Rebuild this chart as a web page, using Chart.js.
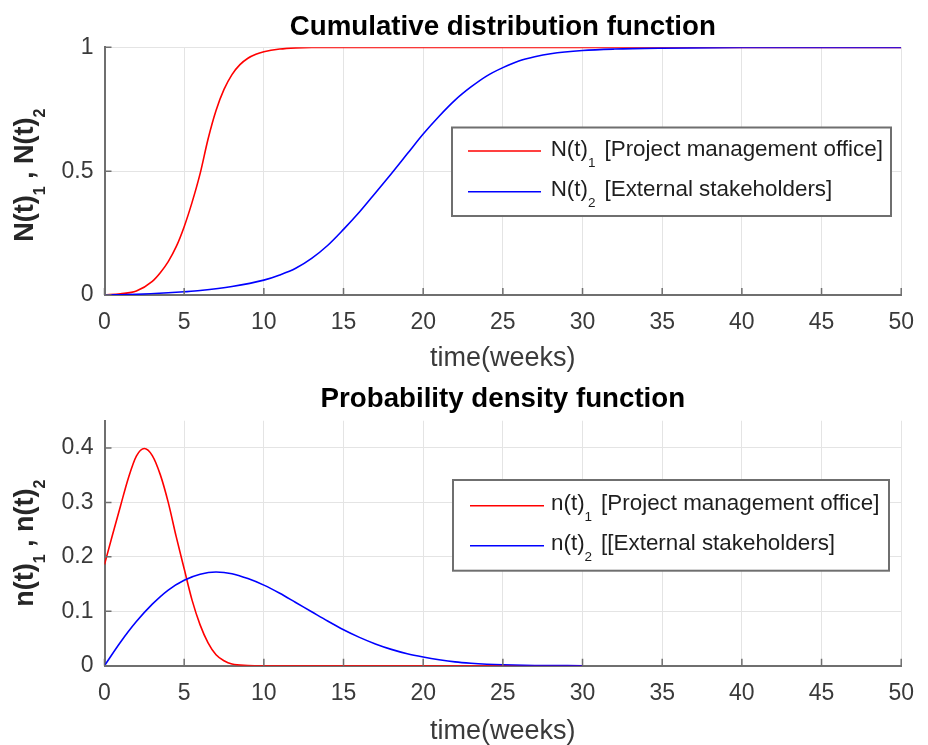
<!DOCTYPE html>
<html>
<head>
<meta charset="utf-8">
<script src="https://cdn.jsdelivr.net/npm/chart.js@4.4.1/dist/chart.umd.min.js"></script>
<style>
html,body{margin:0;padding:0;background:#fff;}
#c1{position:absolute;left:0;top:0;}
#c2{position:absolute;left:0;top:372px;}
</style>
</head>
<body>
<canvas id="c1" width="928" height="372"></canvas>
<canvas id="c2" width="928" height="373"></canvas>
<script>
// ---------- text ----------
const cdfTitle = 'Cumulative distribution function';
const pdfTitle = 'Probability density function';
const xAxisLabel = 'time(weeks)';
const cdfYLabel = [['N(t)', false], ['1', true], [' , N(t)', false], ['2', true]];
const pdfYLabel = [['n(t)', false], ['1', true], [' , n(t)', false], ['2', true]];
const cdfLegend1 = [['N(t)', false], ['1', true], ['[Project management office]', false]];
const cdfLegend2 = [['N(t)', false], ['2', true], ['[External stakeholders]', false]];
const pdfLegend1 = [['n(t)', false], ['1', true], ['[Project management office]', false]];
const pdfLegend2 = [['n(t)', false], ['2', true], ['[[External stakeholders]', false]];

// ---------- ticks ----------
const xTickMin = 0, xTickMax = 50, xTickStep = 5;
const cdfYMin = 0, cdfYMax = 1, cdfYStep = 0.5;
const pdfYMin = 0, pdfYMax = 0.45, pdfYStep = 0.1;

// ---------- series: cumulative distribution ----------
const cdf1Time = [0, 1, 2, 3, 3.5, 4, 4.5, 5, 5.5, 6, 6.5, 7, 7.5, 8, 8.5, 9, 9.5, 10, 11, 12, 13, 15, 20, 30, 40, 50];
const cdf1Vals = [0, 0.005, 0.016, 0.055, 0.09, 0.135, 0.195, 0.276, 0.375, 0.49, 0.63, 0.745, 0.83, 0.89, 0.93, 0.956, 0.972, 0.982, 0.993, 0.998, 1, 1, 1, 1, 1, 1];
const cdf2Time = [0, 2, 4, 5, 6, 8, 10, 11, 12, 13, 14, 15, 16, 17, 18, 19, 20, 21, 22, 23, 24, 25, 26, 27, 28, 30, 32, 35, 40, 45, 50];
const cdf2Vals = [0, 0.003, 0.009, 0.013, 0.018, 0.034, 0.06, 0.081, 0.108, 0.148, 0.2, 0.265, 0.335, 0.412, 0.49, 0.57, 0.65, 0.722, 0.787, 0.84, 0.885, 0.918, 0.945, 0.962, 0.974, 0.987, 0.993, 0.997, 1, 1, 1];

// ---------- series: probability density ----------
const pdf1Time = [0, 0.5, 1, 1.5, 2, 2.5, 3, 3.5, 4, 4.5, 5, 5.5, 6, 6.5, 7, 7.5, 8, 9, 10, 15, 20, 25, 30];
const pdf1Vals = [0.186, 0.24, 0.293, 0.345, 0.385, 0.399, 0.386, 0.351, 0.3, 0.237, 0.178, 0.12, 0.075, 0.042, 0.02, 0.009, 0.003, 0.0005, 0, 0, 0, 0, 0];
const pdf2Time = [0, 1, 2, 3, 4, 5, 6, 7, 8, 9, 10, 11, 12, 13, 14, 15, 16, 17, 18, 19, 20, 21, 22, 23, 24, 25, 27, 30];
const pdf2Vals = [0, 0.043, 0.081, 0.113, 0.139, 0.157, 0.168, 0.172, 0.169, 0.16, 0.148, 0.133, 0.116, 0.099, 0.082, 0.066, 0.052, 0.04, 0.03, 0.022, 0.016, 0.011, 0.007, 0.0045, 0.0028, 0.0017, 0.0005, 0];

// ---------- helpers ----------
const FAMILY = "'Liberation Sans', Arial, Helvetica, sans-serif";
const RED = 'rgb(255,0,0)';
const BLUE = 'rgb(0,0,255)';
const AXIS_COLOR = '#6f6f6f';
const GRID_COLOR = '#e4e4e4';
const TICK_TEXT = '#3a3a3a';

function pts(ts, vs) { return ts.map((t, i) => ({ x: t, y: vs[i] })); }
function plain(parts) { return parts.map(p => p[0]).join(''); }

function drawParts(ctx, parts, x, y, mainFont, subFont, subShift, gapAfterSub) {
  let cx = x;
  parts.forEach(p => {
    ctx.font = p[1] ? subFont : mainFont;
    ctx.fillText(p[0], cx, y + (p[1] ? subShift : 0));
    cx += ctx.measureText(p[0]).width;
    if (p[1] && gapAfterSub) cx += gapAfterSub;
  });
  return cx;
}
function measureParts(ctx, parts, mainFont, subFont, gapAfterSub) {
  let w = 0;
  parts.forEach(p => {
    ctx.font = p[1] ? subFont : mainFont;
    w += ctx.measureText(p[0]).width;
    if (p[1] && gapAfterSub) w += gapAfterSub;
  });
  return w;
}

const inwardTicks = {
  id: 'inwardTicks',
  afterDatasetsDraw(chart) {
    const { ctx, chartArea: a, scales: { x, y } } = chart;
    ctx.save();
    ctx.strokeStyle = AXIS_COLOR;
    ctx.lineWidth = 1.5;
    ctx.beginPath();
    x.ticks.forEach(t => { const px = x.getPixelForValue(t.value); ctx.moveTo(px, a.bottom); ctx.lineTo(px, a.bottom - 7); });
    y.ticks.forEach(t => { const py = y.getPixelForValue(t.value); ctx.moveTo(a.left, py); ctx.lineTo(a.left + 7, py); });
    ctx.stroke();
    ctx.restore();
  }
};

const subYTitle = {
  id: 'subYTitle',
  afterDraw(chart, args, o) {
    const { ctx, chartArea: a } = chart;
    const mainFont = 'bold 27px ' + FAMILY;
    const subFont = 'bold 16px ' + FAMILY;
    const w = measureParts(ctx, o.parts, mainFont, subFont, 0);
    ctx.save();
    ctx.translate(o.baselineX, (a.top + a.bottom) / 2 + o.dy);
    ctx.rotate(-Math.PI / 2);
    ctx.fillStyle = '#262626';
    ctx.textBaseline = 'alphabetic';
    drawParts(ctx, o.parts, -w / 2, 0, mainFont, subFont, 12, 0);
    ctx.restore();
  }
};

const boxLegend = {
  id: 'boxLegend',
  afterDatasetsDraw(chart, args, o) {
    const { ctx } = chart;
    const [x1, y1, x2, y2] = o.box;
    ctx.save();
    ctx.fillStyle = '#ffffff';
    ctx.fillRect(x1, y1, x2 - x1, y2 - y1);
    ctx.strokeStyle = AXIS_COLOR;
    ctx.lineWidth = 2;
    ctx.strokeRect(x1, y1, x2 - x1, y2 - y1);
    const mainFont = '22.4px ' + FAMILY;
    const subFont = '13.5px ' + FAMILY;
    o.rows.forEach((parts, i) => {
      const ds = chart.data.datasets[o.datasetIndex[i]];
      const ly = o.rowY[i];
      ctx.strokeStyle = ds.borderColor;
      ctx.lineWidth = 1.6;
      ctx.beginPath();
      ctx.moveTo(o.lineX[0], ly);
      ctx.lineTo(o.lineX[1], ly);
      ctx.stroke();
      ctx.fillStyle = '#1e1e1e';
      ctx.textBaseline = 'alphabetic';
      drawParts(ctx, parts, o.textX, ly + 4.5, mainFont, subFont, 11, 9);
    });
    ctx.restore();
  }
};

function tickFmt(v) { return String(Math.round(v * 100) / 100); }

function makeChart(canvasId, cfg) {
  return new Chart(document.getElementById(canvasId), {
    type: 'line',
    data: {
      datasets: [
        { label: plain(cfg.legend[0]), data: pts(cfg.s1t, cfg.s1v), borderColor: RED, order: 1 },
        { label: plain(cfg.legend[1]), data: pts(cfg.s2t, cfg.s2v), borderColor: BLUE, order: 0 }
      ]
    },
    options: {
      responsive: false,
      animation: false,
      devicePixelRatio: 1,
      datasets: { line: { borderWidth: 1.6, pointRadius: 0, cubicInterpolationMode: 'monotone', fill: false } },
      layout: { padding: { left: 0, right: 15, top: 0, bottom: 0 } },
      plugins: {
        legend: { display: false },
        tooltip: { enabled: false },
        title: {
          display: true, fullSize: false, text: cfg.title, color: '#000',
          font: { family: FAMILY, size: 27.7, weight: 'bold', lineHeight: 1.2 },
          padding: { top: cfg.titleTop, bottom: cfg.titleBottom }
        },
        subYTitle: { parts: cfg.yLabel, baselineX: 33, dy: cfg.yLabelDy },
        boxLegend: cfg.legendBox
      },
      scales: {
        x: {
          type: 'linear', min: xTickMin, max: xTickMax,
          ticks: { stepSize: xTickStep, color: TICK_TEXT, font: { family: FAMILY, size: 23 }, padding: 14, maxRotation: 0, autoSkip: false, callback: tickFmt },
          grid: { color: GRID_COLOR, lineWidth: 1, drawTicks: false },
          border: { display: true, color: AXIS_COLOR, width: 2 },
          title: { display: true, text: xAxisLabel, color: TICK_TEXT, font: { family: FAMILY, size: 27, lineHeight: 1 }, padding: { top: 0, bottom: cfg.xTitleBottom } },
          afterFit: s => { s.height = cfg.xAxisH; }
        },
        y: {
          type: 'linear', min: cfg.yMin, max: cfg.yMax,
          ticks: { stepSize: cfg.yStep, includeBounds: false, color: TICK_TEXT, font: { family: FAMILY, size: 23 }, padding: 11, callback: tickFmt },
          grid: { color: GRID_COLOR, lineWidth: 1, drawTicks: false },
          border: { display: true, color: AXIS_COLOR, width: 2 },
          afterFit: s => { s.width = 104.5; }
        }
      }
    },
    plugins: [inwardTicks, subYTitle, boxLegend]
  });
}

makeChart('c1', {
  title: cdfTitle, titleTop: 10.3, titleBottom: 3.8,
  s1t: cdf1Time, s1v: cdf1Vals, s2t: cdf2Time, s2v: cdf2Vals,
  legend: [cdfLegend1, cdfLegend2],
  yLabel: cdfYLabel, yLabelDy: 4,
  yMin: cdfYMin, yMax: cdfYMax, yStep: cdfYStep,
  xAxisH: 77, xTitleBottom: 0,
  legendBox: { box: [452, 127.5, 891, 216], rowY: [151, 191.7], lineX: [468, 541], textX: 550.7, rows: [cdfLegend1, cdfLegend2], datasetIndex: [0, 1] }
});

makeChart('c2', {
  title: pdfTitle, titleTop: 10.5, titleBottom: 5.0,
  s1t: pdf1Time, s1v: pdf1Vals, s2t: pdf2Time, s2v: pdf2Vals,
  legend: [pdfLegend1, pdfLegend2],
  yLabel: pdfYLabel, yLabelDy: 0,
  yMin: pdfYMin, yMax: pdfYMax, yStep: pdfYStep,
  xAxisH: 79.3, xTitleBottom: 0,
  legendBox: { box: [453, 108, 889, 198.7], rowY: [133.7, 173.7], lineX: [470, 544], textX: 551, rows: [pdfLegend1, pdfLegend2], datasetIndex: [0, 1] }
});
</script>
</body>
</html>
